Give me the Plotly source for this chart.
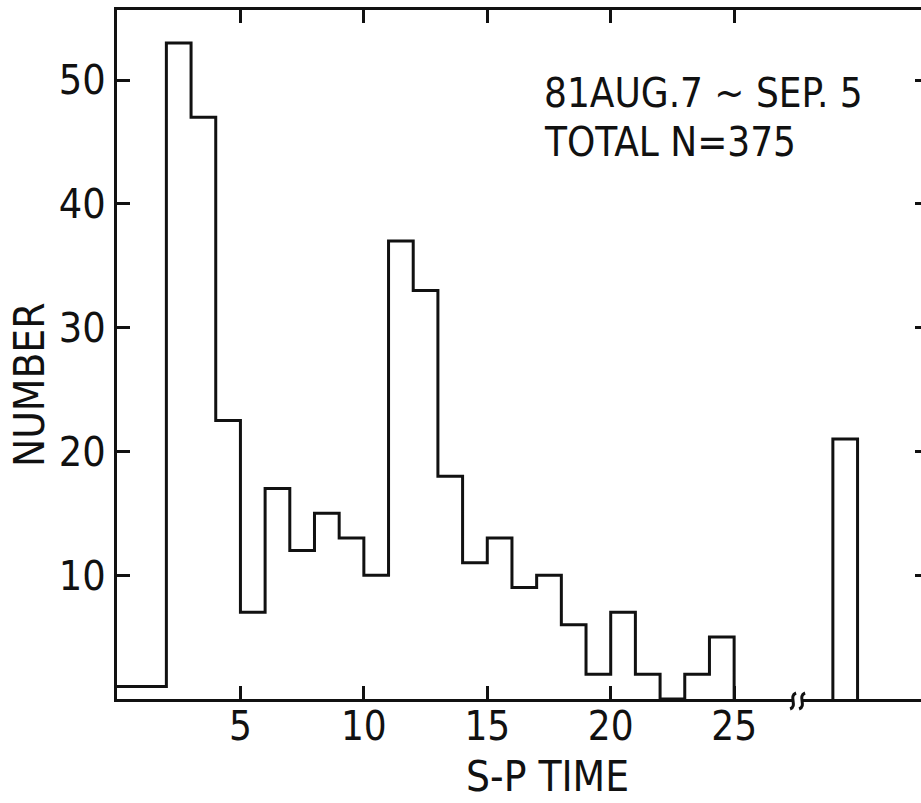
import plotly.graph_objects as go

# ---- data ----
bin_edges = [0, 2, 3, 4, 5, 6, 7, 8, 9, 10, 11, 12, 13, 14, 15, 16, 17, 18, 19, 20, 21, 22, 23, 24, 25]
counts = [1, 53, 47, 22.5, 7, 17, 12, 15, 13, 10, 37, 33, 18, 11, 13, 9, 10, 6, 2, 7, 2, 0, 2, 5]
far_edges = [29, 30]          # isolated bar drawn past the axis break
far_counts = [21]
x_tick_vals = [5, 10, 15, 20, 25]
x_tick_text = ["5", "10", "15", "20", "25"]
y_tick_vals = [10, 20, 30, 40, 50]
y_tick_text = ["10", "20", "30", "40", "50"]
axis_break_at = 27.55
x_range = [0, 32.57]
y_range = [0, 55.66]

FONT = "DejaVu Sans Condensed, DejaVu Sans, sans-serif"
INK = "#111111"
LW = 3

fig = go.Figure()

# step outline of the histogram
fig.add_trace(go.Scatter(
    x=bin_edges, y=counts + [0], mode="lines", line_shape="hv",
    line=dict(color=INK, width=LW), hoverinfo="skip", showlegend=False))

# far bar outline
fx = [far_edges[0], far_edges[0], far_edges[1], far_edges[1]]
fy = [0, far_counts[0], far_counts[0], 0]
fig.add_trace(go.Scatter(
    x=fx, y=fy, mode="lines", line=dict(color=INK, width=LW),
    hoverinfo="skip", showlegend=False, xaxis="x2", yaxis="y2"))

fig.update_layout(
    template="none",
    width=921, height=803,
    margin=dict(l=117, r=0, t=10, b=104, autoexpand=False),
    paper_bgcolor="white", plot_bgcolor="white",
    font=dict(family=FONT, color=INK, size=40),
    xaxis=dict(range=x_range, tickvals=x_tick_vals, showticklabels=False,
               ticks="inside", ticklen=13, tickwidth=LW, tickcolor=INK,
               showline=True, linewidth=LW, linecolor=INK, mirror="ticks",
               showgrid=False, zeroline=False, automargin=False),
    # carries the bottom tick labels
    xaxis2=dict(range=x_range, tickvals=x_tick_vals, ticktext=x_tick_text,
                overlaying="x", anchor="free", position=0, side="bottom",
                ticks="", showline=False, showgrid=False, zeroline=False,
                automargin=False, tickfont=dict(size=40, family=FONT, color=INK)),
    yaxis=dict(range=y_range, tickvals=y_tick_vals, ticktext=y_tick_text,
               ticks="inside", ticklen=13, tickwidth=LW, tickcolor=INK,
               showline=True, linewidth=LW, linecolor=INK,
               showgrid=False, zeroline=False, automargin=False,
               tickfont=dict(size=41, family=FONT, color=INK)),
    yaxis2=dict(range=y_range, tickvals=y_tick_vals, overlaying="y", side="right",
                anchor="x2",
                ticks="inside", ticklen=6, tickwidth=LW, tickcolor=INK,
                showticklabels=False, showline=False, showgrid=False, zeroline=False,
                automargin=False),
)

shapes = []
# gap in the bottom axis line (y in paper so it is not clipped at the frame)
shapes.append(dict(type="rect", xref="x", yref="paper", xsizemode="pixel", ysizemode="pixel",
                   xanchor=axis_break_at, yanchor=0, x0=-5, x1=5, y0=-9, y1=6,
                   fillcolor="white", line=dict(width=0), layer="above"))
# two wiggle marks
for dx in (-4, 5):
    shapes.append(dict(type="path", xref="x", yref="paper", xsizemode="pixel", ysizemode="pixel",
                       xanchor=axis_break_at, yanchor=0,
                       path=f"M {dx+3},6 C {dx-5},3 {dx+5},-7 {dx-3},-10",
                       line=dict(color=INK, width=LW), layer="above"))
fig.update_layout(shapes=shapes)

ann = [
    dict(text="81AUG.7 ~ SEP. 5", xref="paper", yref="paper", x=0.528, y=0.8795,
         xanchor="left", yanchor="middle", showarrow=False, font=dict(size=40, family=FONT)),
    dict(text="TOTAL N=375", xref="paper", yref="paper", x=0.528, y=0.808,
         xanchor="left", yanchor="middle", showarrow=False, font=dict(size=40, family=FONT)),
    dict(text="NUMBER", xref="paper", yref="paper", x=-0.1095, y=0.457, textangle=-90,
         xanchor="center", yanchor="middle", showarrow=False, font=dict(size=42, family=FONT)),
    dict(text="S-P TIME", xref="paper", yref="paper", x=0.536, y=-0.112,
         xanchor="center", yanchor="middle", showarrow=False, font=dict(size=42, family=FONT)),
]
fig.update_layout(annotations=ann)

fig.write_html("out.html", config={"displayModeBar": False},
               post_script="document.body.style.margin='0px';document.body.style.overflow='hidden';")
